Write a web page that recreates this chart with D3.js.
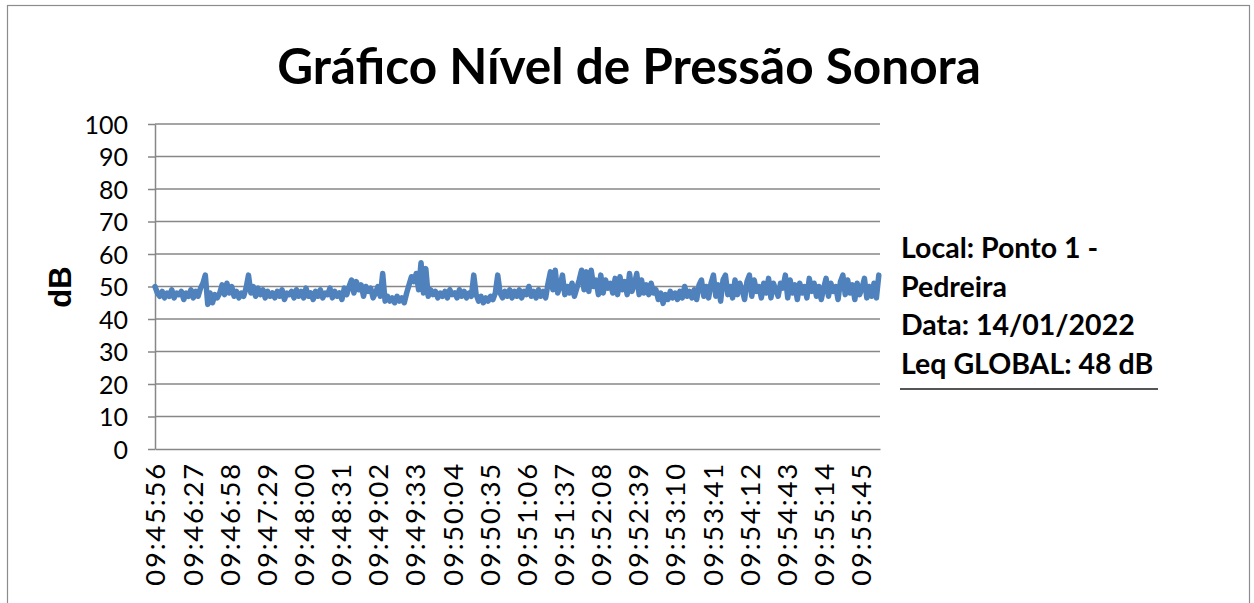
<!DOCTYPE html>
<html>
<head>
<meta charset="utf-8">
<script src="https://cdn.jsdelivr.net/npm/d3@7"></script>
<style>
  body { margin: 0; background: #fff; }
  svg { display: block; }
</style>
</head>
<body>
<svg width="1254" height="603"></svg>
<script>
// rótulos do eixo x (a cada 31 s)
const timeLabels = ["09:45:56", "09:46:27", "09:46:58", "09:47:29", "09:48:00",
  "09:48:31", "09:49:02", "09:49:33", "09:50:04", "09:50:35", "09:51:06",
  "09:51:37", "09:52:08", "09:52:39", "09:53:10", "09:53:41", "09:54:12",
  "09:54:43", "09:55:14", "09:55:45"];
const labelStep = 31;       // segundos entre rótulos
const sampleStep = 2;       // segundos entre amostras
const totalSeconds = 605;
const yTicks = [0, 10, 20, 30, 40, 50, 60, 70, 80, 90, 100];

// nível sonoro (dB) estimado a cada 2 s
const levels = [
  50, 48, 47, 48.5, 46.5, 48, 47, 49, 46.5, 48,
  47.5, 48.5, 46, 48, 47, 49, 46.5, 48.5, 47, 49.5,
  51, 53.5, 44.5, 48, 45, 47.5, 46.5, 48, 50.5, 47.5,
  51, 48, 50, 47, 48.5, 46.5, 48, 47, 49.5, 53.5,
  48, 50, 47, 49.5, 47.5, 49, 46.5, 48.5, 47, 48,
  46.5, 48.5, 47, 49, 46, 48, 47.5, 48.5, 46.5, 49,
  47, 48.5, 46.5, 49.5, 47, 48, 46, 48.5, 47, 49,
  46.5, 48, 47.5, 49.5, 46.5, 48.5, 47, 48, 46, 49.5,
  47.5, 50, 52, 48, 51.5, 49, 50.5, 47, 50, 48.5,
  49.5, 46.5, 48, 50, 47, 54, 45.5, 47, 45.5, 46.5,
  45, 47, 45.5, 46.5, 45, 48, 50.5, 53, 51.5, 54,
  49, 57.3, 48, 55.5, 47, 49, 47.5, 48.5, 46.5, 48,
  47, 48.5, 46.5, 49, 47.5, 48, 46.5, 49, 47, 48.5,
  46.5, 48, 47, 53.5, 47.5, 45.5, 47, 45, 46.5, 45.5,
  47, 46, 48, 53.5, 48, 46.5, 48.5, 47, 49, 46.5,
  48.5, 47, 49, 46.5, 48.5, 47.5, 50, 47, 48.5, 46.5,
  49, 47, 48.5, 46.5, 51, 54.5, 49, 55, 48, 50,
  53.5, 47.5, 50, 48, 51, 47, 49.5, 52, 55, 49,
  54.5, 48.5, 55, 50, 52, 47.5, 53.5, 48, 52, 49.5,
  51, 48, 52.5, 47.5, 53, 49, 51.5, 47.5, 54, 48.5,
  50.5, 54, 47.5, 52, 48, 50.5, 47.5, 51, 48, 49,
  46, 48, 44.8, 47.5, 46, 48.5, 46.5, 48, 46, 48.5,
  46.5, 50, 47, 48.5, 46.5, 49, 46, 50.5, 52, 47,
  50, 46.5, 51, 53.5, 47, 50.5, 45.5, 52, 53.5, 47.5,
  50, 46.5, 52, 47.5, 51, 49, 46, 51.5, 53.5, 47,
  52, 48.5, 50, 46.5, 51, 48, 52.5, 46.5, 51, 49,
  47, 51, 49.5, 53.5, 46.5, 52, 48, 50.5, 46, 51,
  48, 50, 46.5, 52.5, 48.5, 51, 47, 50, 46, 49.5,
  52.5, 47, 51, 48.5, 50, 46, 51.5, 53.5, 47.5, 52,
  48, 50.5, 46, 51, 47.5, 49.5, 52.5, 46.5, 50, 47,
  51, 46.5, 53.5
];

const infoLines = ["Local: Ponto 1 -", "Pedreira", "Data: 14/01/2022", "Leq GLOBAL: 48 dB"];

const svg = d3.select("svg");
const font = "Lato, 'Open Sans', sans-serif";
const gridColor = "#878787";

// moldura do gráfico
svg.append("rect")
  .attr("x", 7.5).attr("y", 5.5)
  .attr("width", 1242).attr("height", 620)
  .attr("fill", "#fff").attr("stroke", "#8c8c8c").attr("stroke-width", 1.2);

const x = d3.scaleLinear().domain([0, totalSeconds]).range([155, 880]);
const y = d3.scaleLinear().domain([0, 100]).range([449, 124]);

// título
svg.append("text")
  .attr("x", 629).attr("y", 84)
  .attr("text-anchor", "middle")
  .attr("font-family", font).attr("font-weight", "bold")
  .attr("font-size", 49.5)
  .text("Gráfico Nível de Pressão Sonora");

// linhas de grade
svg.append("g")
  .selectAll("line")
  .data(yTicks.filter((d) => d > 0))
  .join("line")
  .attr("x1", x(0)).attr("x2", x(totalSeconds))
  .attr("y1", (d) => y(d)).attr("y2", (d) => y(d))
  .attr("stroke", gridColor).attr("stroke-width", 1.5);

// eixo y
const yAxis = svg.append("g")
  .attr("transform", `translate(${x(0)},0)`)
  .call(d3.axisLeft(y).tickValues(yTicks).tickSize(7).tickSizeOuter(0).tickPadding(20));
yAxis.select(".domain").attr("stroke", gridColor).attr("stroke-width", 1.5);
yAxis.selectAll(".tick line").attr("stroke", gridColor).attr("stroke-width", 1.5);
yAxis.selectAll("text")
  .attr("font-family", font).attr("font-size", 25).attr("fill", "#000")
  .attr("dy", "0.36em");

// eixo x
const xAxis = svg.append("g")
  .attr("transform", `translate(0,${y(0)})`)
  .call(d3.axisBottom(x)
    .tickValues(timeLabels.map((d, i) => i * labelStep))
    .tickFormat((d, i) => timeLabels[i])
    .tickSize(0).tickSizeOuter(0));
xAxis.select(".domain").attr("stroke", gridColor).attr("stroke-width", 1.5);
xAxis.selectAll("text")
  .attr("font-family", font).attr("font-size", 27.5).attr("fill", "#000")
  .attr("letter-spacing", 1.8)
  .attr("text-anchor", "end")
  .attr("transform", "rotate(-90)")
  .attr("x", -13).attr("y", 0).attr("dy", "0.36em");

// rótulo dB
svg.append("text")
  .attr("transform", "translate(71,287) rotate(-90)")
  .attr("text-anchor", "middle")
  .attr("font-family", "'Liberation Sans', Arial, sans-serif")
  .attr("font-weight", "bold").attr("font-size", 31)
  .text("dB");

// série
const line = d3.line()
  .x((d, i) => x(i * sampleStep))
  .y((d) => y(d));
svg.append("path")
  .datum(levels)
  .attr("d", line)
  .attr("fill", "none")
  .attr("stroke", "#4f81bd")
  .attr("stroke-width", 5.5)
  .attr("stroke-linejoin", "round")
  .attr("stroke-linecap", "round");

// informações à direita
const info = svg.append("g")
  .attr("font-family", font).attr("font-weight", "bold").attr("font-size", 28.5);
info.selectAll("text")
  .data(infoLines)
  .join("text")
  .attr("x", 901)
  .attr("y", (d, i) => 258 + i * 38.5)
  .text((d) => d);
info.append("line")
  .attr("x1", 900).attr("x2", 1158)
  .attr("y1", 389).attr("y2", 389)
  .attr("stroke", "#555").attr("stroke-width", 2);
</script>
</body>
</html>
